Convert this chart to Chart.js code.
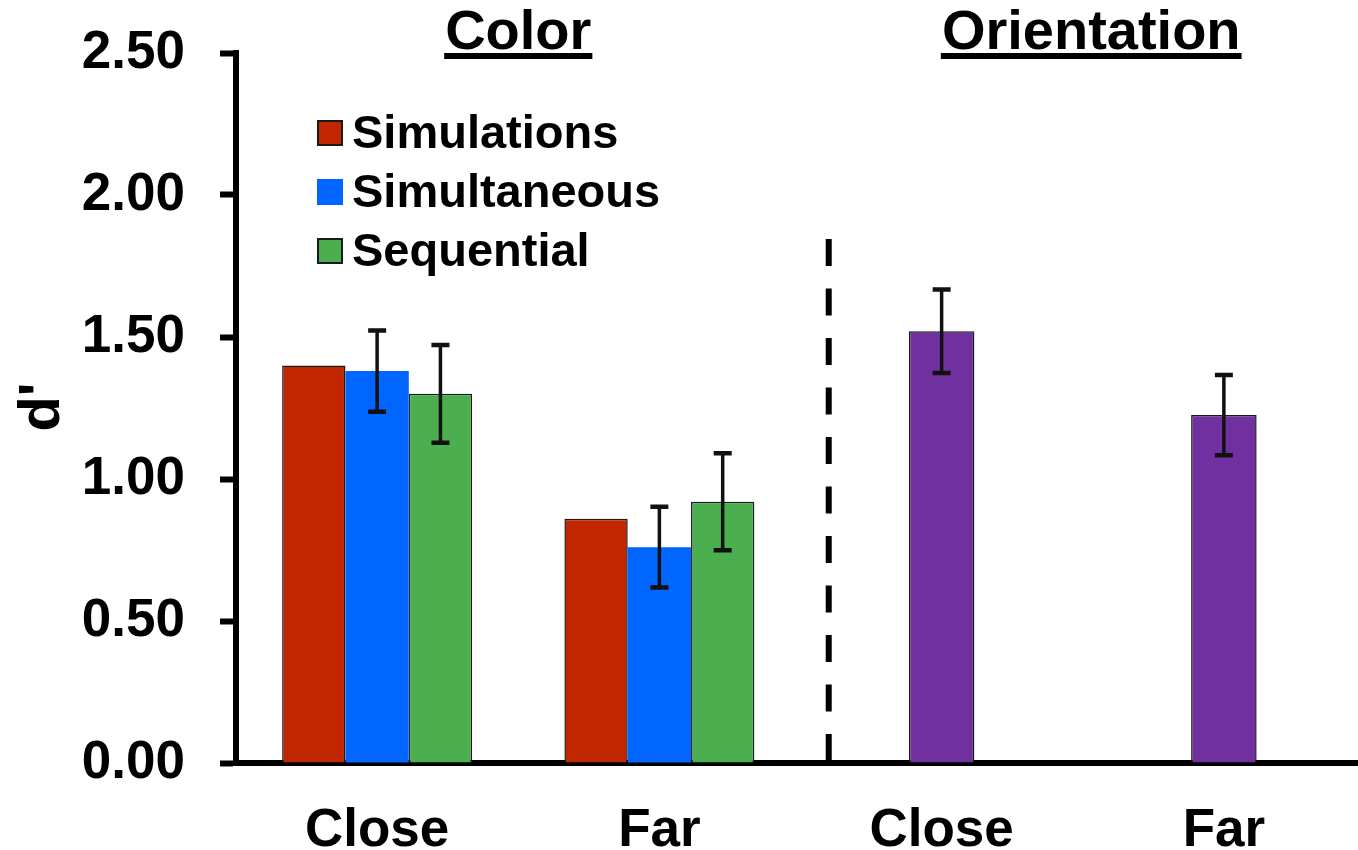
<!DOCTYPE html>
<html>
<head>
<meta charset="utf-8">
<script src="https://cdn.jsdelivr.net/npm/chart.js@4.4.0/dist/chart.umd.min.js"></script>
<style>
  html, body { margin: 0; padding: 0; background: #fff; overflow: hidden; }
  canvas { display: block; }
</style>
</head>
<body>
<canvas id="dprimeChart" width="1366" height="850"></canvas>
<script>
// data
const categories = ['Close', 'Far', 'Close', 'Far'];
const simulations = [1.40, 0.86, null, null];
const simultaneous = [1.38, 0.76, null, null];
const simultaneousErr = [0.143, 0.142, null, null];
const sequential = [1.30, 0.92, null, null];
const sequentialErr = [0.172, 0.171, null, null];
const orientation = [null, null, 1.52, 1.225];
const orientationErr = [null, null, 0.147, 0.141];

const yTicks = [0, 0.5, 1.0, 1.5, 2.0, 2.5];
const groupTitles = ['Color', 'Orientation'];
const groupTitlePos = [0.5, 2.53];   // posisi di skala kategori
const dividerPos = 1.6;               // garis putus-putus
const dividerTop = 1.845;

const FONT = '"Liberation Sans", Arial, sans-serif';

const errorBars = {
    id: 'errorBars',
    afterDatasetsDraw(chart) {
        const ctx = chart.ctx;
        const yScale = chart.scales.y;
        chart.data.datasets.forEach((ds, i) => {
            if (!ds.errors) return;
            const meta = chart.getDatasetMeta(i);
            meta.data.forEach((bar, j) => {
                const v = ds.data[j];
                const e = ds.errors[j];
                if (v == null || e == null) return;
                const top = yScale.getPixelForValue(v + e);
                const bot = yScale.getPixelForValue(v - e);
                ctx.save();
                ctx.strokeStyle = '#111';
                ctx.lineWidth = 3.5;
                ctx.beginPath();
                ctx.moveTo(bar.x, top);
                ctx.lineTo(bar.x, bot);
                ctx.stroke();
                ctx.lineWidth = 4.5;
                ctx.beginPath();
                ctx.moveTo(bar.x - 9, top);
                ctx.lineTo(bar.x + 9, top);
                ctx.moveTo(bar.x - 9, bot);
                ctx.lineTo(bar.x + 9, bot);
                ctx.stroke();
                ctx.restore();
            });
        });
    }
};

const decorations = {
    id: 'decorations',
    afterDraw(chart) {
        const ctx = chart.ctx;
        const x = chart.scales.x;
        const y = chart.scales.y;
        ctx.save();

        // garis pemisah putus-putus
        const dx = x.getPixelForValue(dividerPos);
        ctx.strokeStyle = '#000';
        ctx.lineWidth = 6;
        ctx.setLineDash([27, 22.5]);
        ctx.beginPath();
        ctx.moveTo(dx, y.getPixelForValue(dividerTop));
        ctx.lineTo(dx, y.getPixelForValue(0) - 3);
        ctx.stroke();
        ctx.setLineDash([]);

        // judul grup dengan garis bawah
        ctx.fillStyle = '#000';
        ctx.font = 'bold 56px ' + FONT;
        ctx.textAlign = 'center';
        ctx.textBaseline = 'alphabetic';
        groupTitles.forEach((t, i) => {
            const cx = x.getPixelForValue(groupTitlePos[i]);
            ctx.fillText(t, cx, 49);
            const w = ctx.measureText(t).width;
            ctx.fillRect(cx - w / 2 - 1, 53, w + 2, 6);
        });

        // legend manual
        const legendItems = chart.data.datasets.filter(d => d.inLegend);
        ctx.font = 'bold 47px ' + FONT;
        ctx.textAlign = 'left';
        ctx.textBaseline = 'middle';
        legendItems.forEach((d, i) => {
            const cy = 133 + i * 59;
            ctx.fillStyle = d.backgroundColor;
            ctx.fillRect(317, cy - 13, 26, 26);
            if (d.borderWidth) {
                ctx.strokeStyle = '#1a1a1a';
                ctx.lineWidth = 2;
                ctx.strokeRect(318, cy - 12, 24, 24);
            }
            ctx.fillStyle = '#000';
            ctx.fillText(d.label, 352, cy + 2);
        });

        // judul sumbu y
        ctx.translate(43, 407);
        ctx.rotate(-Math.PI / 2);
        ctx.font = 'bold 58px ' + FONT;
        ctx.textAlign = 'center';
        ctx.textBaseline = 'middle';
        ctx.fillText("d'", 0, 0);
        ctx.restore();
    }
};

const ctx = document.getElementById('dprimeChart').getContext('2d');
const dprimeChart = new Chart(ctx, {
    type: 'bar',
    data: {
        labels: categories,
        datasets: [
            {
                label: 'Simulations', data: simulations, inLegend: true,
                backgroundColor: '#C02600', borderColor: '#1a1a1a', borderWidth: 1.5,
                categoryPercentage: 0.673, barPercentage: 1, skipNull: true
            },
            {
                label: 'Simultaneous', data: simultaneous, errors: simultaneousErr, inLegend: true,
                backgroundColor: '#0066FF', borderColor: '#0066FF', borderWidth: 0,
                categoryPercentage: 0.673, barPercentage: 1, skipNull: true
            },
            {
                label: 'Sequential', data: sequential, errors: sequentialErr, inLegend: true,
                backgroundColor: '#4BAF50', borderColor: '#1a1a1a', borderWidth: 1.5,
                categoryPercentage: 0.673, barPercentage: 1, skipNull: true
            },
            {
                label: 'Orientation', data: orientation, errors: orientationErr, inLegend: false,
                backgroundColor: '#7030A0', borderColor: '#1a1a1a', borderWidth: 1.5,
                categoryPercentage: 0.673, barPercentage: 0.345, skipNull: true
            }
        ]
    },
    options: {
        responsive: false,
        animation: false,
        devicePixelRatio: 1,
        layout: { padding: { top: 53, right: 1, left: 0, bottom: 0 } },
        plugins: {
            legend: { display: false },
            tooltip: { enabled: false }
        },
        scales: {
            x: {
                z: 1,
                grid: { display: false },
                border: { display: true, color: '#000', width: 6 },
                ticks: {
                    color: '#000',
                    padding: 29,
                    font: { family: FONT, size: 53, weight: 'bold' }
                },
                afterFit: scale => { scale.height = 87; }
            },
            y: {
                z: 1,
                min: 0,
                max: 2.5,
                afterBuildTicks: scale => { scale.ticks = yTicks.map(v => ({ value: v })); },
                grid: {
                    display: true, drawOnChartArea: false, drawTicks: true,
                    tickLength: 16, tickWidth: 6, tickColor: '#000'
                },
                border: { display: true, color: '#000', width: 6 },
                ticks: {
                    color: '#000',
                    padding: 35,
                    font: { family: FONT, size: 53, weight: 'bold' },
                    callback: v => Number(v).toFixed(2)
                },
                afterFit: scale => {
                    scale.width = 236;
                    scale.paddingTop = 0;
                    scale.paddingBottom = 0;
                }
            }
        }
    },
    plugins: [errorBars, decorations]
});
</script>
</body>
</html>
